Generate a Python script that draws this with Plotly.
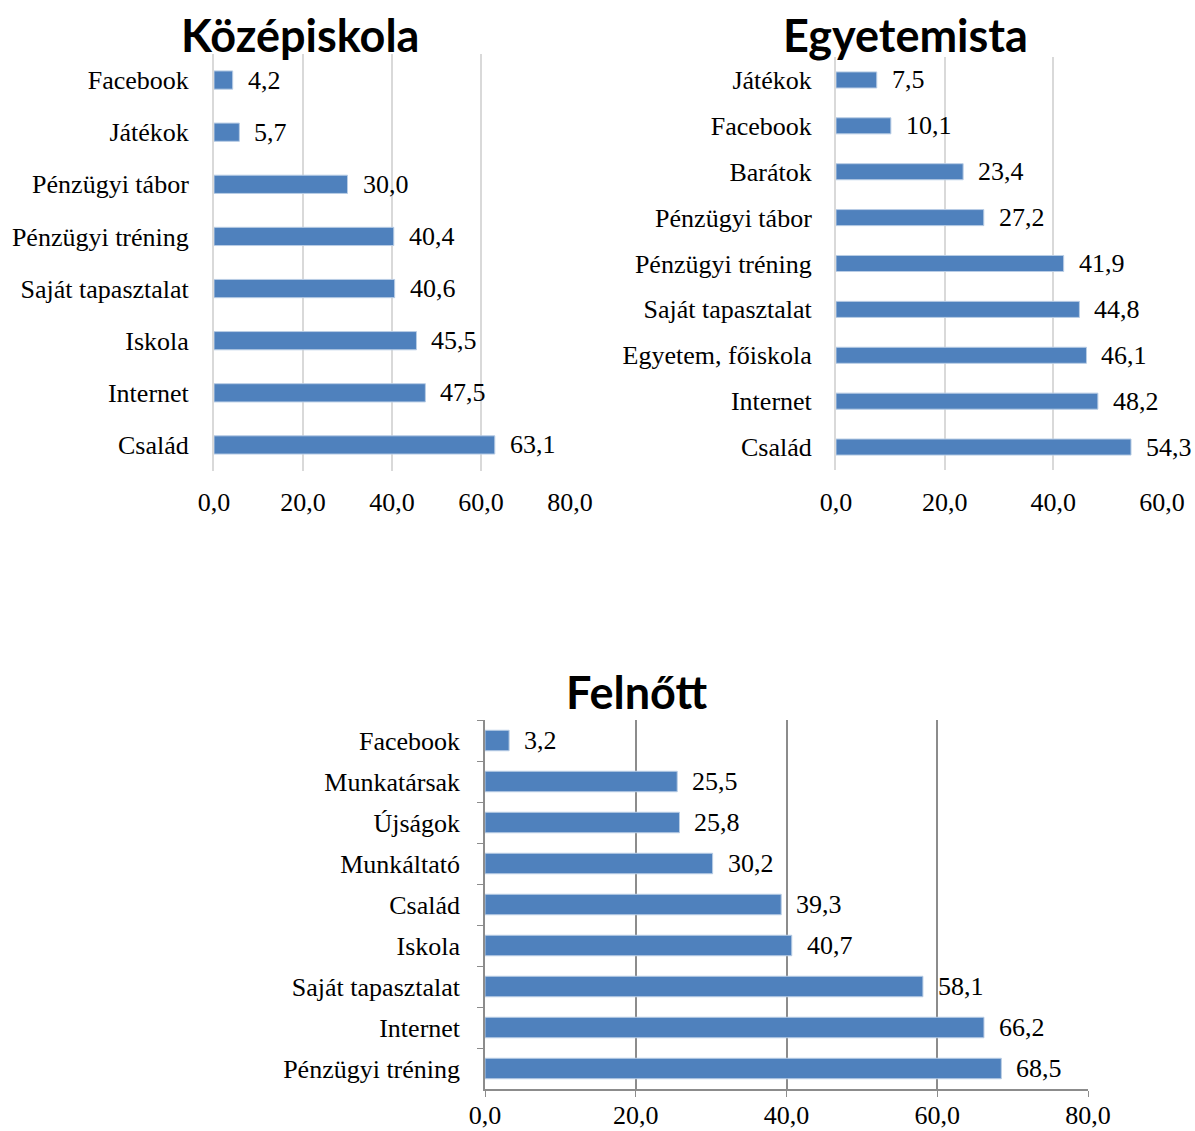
import plotly.graph_objects as go

# Középiskola
kozep_cats = ["Facebook", "Játékok", "Pénzügyi tábor", "Pénzügyi tréning",
              "Saját tapasztalat", "Iskola", "Internet", "Család"]
kozep_vals = [4.2, 5.7, 30.0, 40.4, 40.6, 45.5, 47.5, 63.1]

# Egyetemista
egy_cats = ["Játékok", "Facebook", "Barátok", "Pénzügyi tábor", "Pénzügyi tréning",
            "Saját tapasztalat", "Egyetem, főiskola", "Internet", "Család"]
egy_vals = [7.5, 10.1, 23.4, 27.2, 41.9, 44.8, 46.1, 48.2, 54.3]

# Felnőtt
feln_cats = ["Facebook", "Munkatársak", "Újságok", "Munkáltató", "Család",
             "Iskola", "Saját tapasztalat", "Internet", "Pénzügyi tréning"]
feln_vals = [3.2, 25.5, 25.8, 30.2, 39.3, 40.7, 58.1, 66.2, 68.5]

titles = ["Középiskola", "Egyetemista", "Felnőtt"]

BAR = "#4f81bd"
SERIF = "Liberation Serif"
FS = 26

W, H = 1195, 1131


def fmt(v):
    return f"{v:.1f}".replace(".", ",")


def HX(a, b):
    return [a / W, b / W]


def VY(top, bottom):
    return [1 - bottom / H, 1 - top / H]


fig = go.Figure()
specs = [
    (kozep_cats, kozep_vals, 0.35, "x", "y"),
    (egy_cats, egy_vals, 0.35, "x2", "y2"),
    (feln_cats, feln_vals, 0.5, "x3", "y3"),
]
for cats, vals, w, xa, ya in specs:
    fig.add_trace(go.Bar(
        y=cats, x=vals, orientation="h", xaxis=xa, yaxis=ya,
        marker=dict(color=BAR, line=dict(color="#b9cde5", width=1)),
        width=w, showlegend=False, hoverinfo="x+y",
    ))
    for c, v in zip(cats, vals):
        fig.add_annotation(
            x=v, y=c, xref=xa, yref=ya, text=fmt(v), showarrow=False,
            xanchor="left", yanchor="middle", xshift=13,
            font=dict(family=SERIF, size=FS, color="black"),
        )

xcommon = dict(tickformat=".1f", tickfont=dict(family=SERIF, size=FS, color="black"),
               zeroline=False, fixedrange=True, dtick=20, automargin=False)
ycommon = dict(type="category", autorange="reversed",
               tickfont=dict(family=SERIF, size=FS, color="black"),
               fixedrange=True, automargin=False)

fig.update_layout(
    width=W, height=H,
    margin=dict(l=0, r=0, t=0, b=0),
    plot_bgcolor="white", paper_bgcolor="white",
    separators=", ",
    xaxis=dict(domain=HX(214, 570), range=[0, 80], anchor="y",
               showgrid=True, gridcolor="#d9d9d9", gridwidth=2,
               showline=False, ticks="", ticklabelstandoff=13, **xcommon),
    yaxis=dict(domain=VY(54, 471), anchor="x", showline=True, linecolor="#d9d9d9",
               linewidth=2, ticks="", ticklabelstandoff=18, **ycommon),
    xaxis2=dict(domain=HX(836, 1162), range=[0, 60], anchor="y2",
                showgrid=True, gridcolor="#d9d9d9", gridwidth=2,
                showline=False, ticks="", ticklabelstandoff=14, **xcommon),
    yaxis2=dict(domain=VY(57, 470), anchor="x2", showline=True, linecolor="#d9d9d9",
                linewidth=2, ticks="", ticklabelstandoff=17, **ycommon),
    xaxis3=dict(domain=HX(485, 1088), range=[0, 80], anchor="y3",
                showgrid=True, gridcolor="#8c8c8c", gridwidth=1.5,
                showline=True, linecolor="#8c8c8c", linewidth=1.5,
                ticks="outside", ticklen=6, tickcolor="#8c8c8c",
                ticklabelstandoff=-4, **xcommon),
    yaxis3=dict(domain=VY(720, 1089), anchor="x3", showline=True, linecolor="#8c8c8c",
                linewidth=1.5, ticks="outside", ticklen=6, tickcolor="#8c8c8c",
                tickson="boundaries", ticklabelstandoff=18, **ycommon),
)

for t, x, y in [(titles[0], 300, 35), (titles[1], 905, 35), (titles[2], 636, 692)]:
    fig.add_annotation(text=f"<b>{t}</b>", x=x / W, y=1 - y / H,
                       xref="paper", yref="paper", showarrow=False,
                       xanchor="center", yanchor="middle",
                       font=dict(family="Lato", size=45, color="black"))

fig.write_html(
    "out.html",
    config={"displayModeBar": False},
    post_script="document.body.style.margin='0';"
                "document.documentElement.style.overflow='hidden';"
                "document.body.style.overflow='hidden';",
)
